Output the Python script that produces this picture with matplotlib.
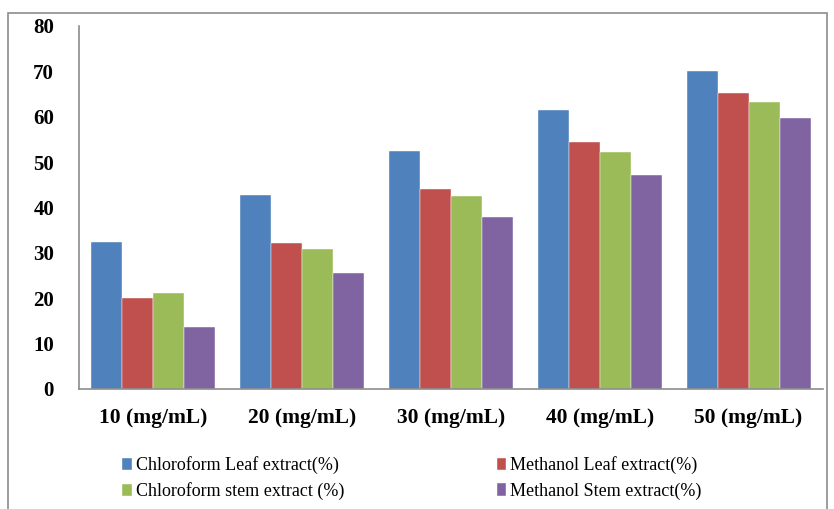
import matplotlib
matplotlib.use("Agg")
import matplotlib.pyplot as plt
import numpy as np
from matplotlib.patches import Rectangle

plt.rcParams["font.family"] = ["Liberation Serif", "DejaVu Serif"]

# 농도별 억제율 (%)
concentrations = ["10 (mg/mL)", "20 (mg/mL)", "30 (mg/mL)", "40 (mg/mL)", "50 (mg/mL)"]
series_names = ["Chloroform Leaf extract(%)", "Methanol Leaf extract(%)",
                "Chloroform stem extract (%)", "Methanol Stem extract(%)"]
chloro_leaf = [32.4, 42.8, 52.5, 61.4, 70.0]
methanol_leaf = [20.1, 32.2, 44.1, 54.5, 65.3]
chloro_stem = [21.2, 30.9, 42.5, 52.2, 63.3]
methanol_stem = [13.7, 25.6, 37.9, 47.1, 59.8]
yticks = [0, 10, 20, 30, 40, 50, 60, 70, 80]

COLORS = ["#4F81BD", "#C0504D", "#9BBB59", "#8064A2"]
AXIS_GRAY = "#8C8C8C"

fig = plt.figure(figsize=(8.34, 5.09), dpi=100)
ax = fig.add_axes([79 / 834, 1 - 389 / 509, 744 / 834, 363 / 509])

x = np.arange(len(concentrations))
w = 0.208
all_series = [chloro_leaf, methanol_leaf, chloro_stem, methanol_stem]
bars = []
for i, (vals, name, c) in enumerate(zip(all_series, series_names, COLORS)):
    b = ax.bar(x + (i - 1.5) * w, vals, width=w, color=c, label=name,
               edgecolor="white", linewidth=0.3, zorder=2)
    bars.append(b)

ax.set_xlim(-0.5, len(concentrations) - 0.5)
ax.set_ylim(0, 80)
ax.set_yticks(yticks)
ax.set_yticklabels([str(t) for t in yticks], fontsize=15, fontweight="bold")
ax.set_xticks(x)
ax.set_xticklabels(concentrations, fontsize=15.5, fontweight="bold")
ax.tick_params(axis="both", length=0)
ax.tick_params(axis="y", pad=18)
ax.tick_params(axis="x", pad=14)
ax.spines[["top", "right"]].set_visible(False)
ax.spines[["left", "bottom"]].set_color(AXIS_GRAY)
ax.spines[["left", "bottom"]].set_linewidth(1.2)

# 범례: 행 우선 배치 (1행 Leaf, 2행 stem)
order = [0, 2, 1, 3]
ax.legend([bars[k] for k in order], [series_names[k] for k in order],
          loc="upper left", bbox_to_anchor=(0.036, -0.141), ncol=2, frameon=False,
          fontsize=13, handlelength=0.55, handleheight=0.7, handletextpad=0.2,
          columnspacing=8.45, labelspacing=0.45)

# 외곽 테두리
fig.patches.append(Rectangle((8 / 834, -0.01), 819 / 834, 1 - 13 / 509 + 0.01,
                             transform=fig.transFigure, fill=False,
                             edgecolor=AXIS_GRAY, linewidth=1.2))

fig.savefig("out.png", dpi=100)
